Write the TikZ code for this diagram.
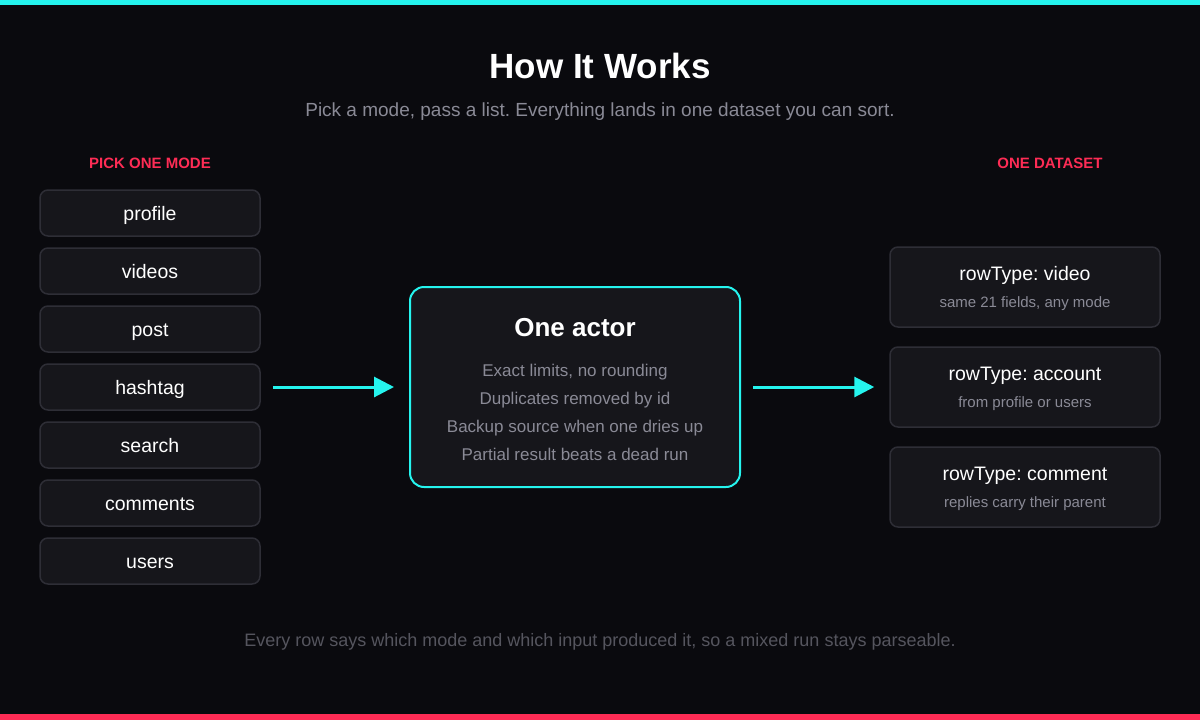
\documentclass[tikz,border=0pt]{standalone}
\usepackage{fontspec}
\setmainfont{Liberation Sans}
\usetikzlibrary{arrows.meta,positioning}
\definecolor{bgdark}{HTML}{0A0A0E}
\definecolor{tkcyan}{HTML}{25F4EE}
\definecolor{tkred}{HTML}{FE2C55}
\definecolor{cardfill}{HTML}{16161B}
\definecolor{cardline}{HTML}{2E2E36}
\definecolor{mutedtxt}{HTML}{8A8A96}
\definecolor{foottxt}{HTML}{55555E}
\newcommand{\fsz}[1]{\fontsize{#1}{#1}\selectfont}
\frenchspacing

\begin{document}
\begin{tikzpicture}[x=1pt, y=-1pt,
    txt/.style={text height=0.72em, text depth=0.2em, inner sep=0pt},
    mode/.style={draw=cardline, line width=1.5pt, fill=cardfill, rounded corners=8pt,
        minimum width=220pt, minimum height=46pt},
    rowcard/.style={draw=cardline, line width=1.5pt, fill=cardfill, rounded corners=8pt,
        minimum width=270pt, minimum height=80pt},
    flow/.style={-{Triangle[length=20pt,width=20pt]}, tkcyan, line width=3pt}]

    % --- background and bars ---
    \fill[bgdark] (0,0) rectangle (1200,720);
    \useasboundingbox (0,0) rectangle (1200,720);
    \fill[tkcyan] (0,0) rectangle (1200,5);
    \fill[tkred] (0,714) rectangle (1200,720);

    % --- heading ---
    \node[txt, text=white, font=\bfseries\fsz{35}] (title) at (600,76) {How It Works};
    \node[txt, text=mutedtxt, font=\fsz{19}] (subtitle) at (600,114) {Pick a mode, pass a list. Everything lands in one dataset you can sort.};
    \node[txt, text=tkred, font=\bfseries\fsz{15}] (lefthead) at (150,166) {PICK ONE MODE};
    \node[txt, text=tkred, font=\bfseries\fsz{15}] (righthead) at (1050,166) {ONE DATASET};

    % --- modes ---
    \foreach \name [count=\i from 0] in {profile,videos,post,hashtag,search,comments,users} {
        \node[mode] (m\name) at (150,213+58*\i) {};
        \node[txt, text=white, font=\fsz{19.5}] at (150,218+58*\i) {\name};
    }

    % --- the actor ---
    \node[draw=tkcyan, line width=2pt, fill=cardfill, rounded corners=14pt,
        minimum width=330pt, minimum height=200pt] (actor) at (575,387) {};
    \node[txt, text=white, font=\bfseries\fsz{26}] at (575,334) {One actor};
    \foreach \line [count=\i from 0] in {Exact limits{,} no rounding, Duplicates removed by id,
        Backup source when one dries up, Partial result beats a dead run}
        \node[txt, text=mutedtxt, font=\fsz{17}] at (575,374+28*\i) {\line};

    % --- dataset rows ---
    \foreach \kind/\note/\y in {video/{same 21 fields, any mode}/287,
        account/from profile or users/387, comment/replies carry their parent/487} {
        \node[rowcard] (r\kind) at (1025,\y) {};
        \node[txt, text=white, font=\fsz{19.5}] at (1025,\y-9) {rowType: \kind};
        \node[txt, text=mutedtxt, font=\fsz{15}] at (1025,\y+18) {\note};
    }

    % --- flow ---
    \draw[flow, shorten <=12pt, shorten >=15pt] (mhashtag.east) -- (actor.west);
    \draw[flow, shorten <=12pt, shorten >=15pt] (actor.east) -- (raccount.west);

    % --- footer ---
    \node[txt, text=foottxt, font=\fsz{18}] (footer) at (600,644) {Every row says which mode and which input produced it, so a mixed run stays parseable.};

\end{tikzpicture}
\end{document}
